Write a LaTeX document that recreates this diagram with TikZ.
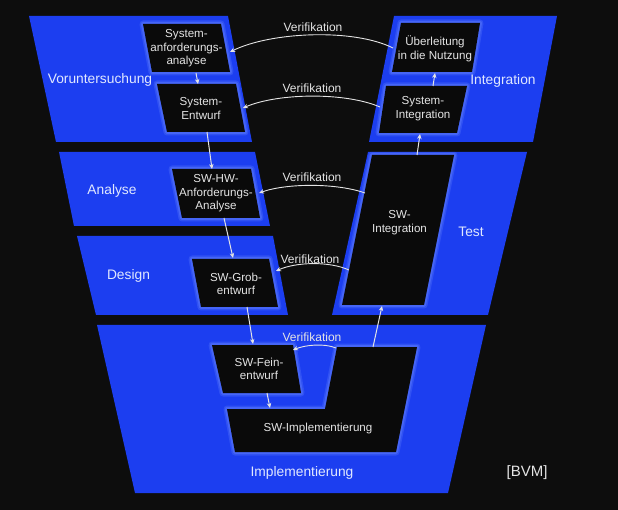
\documentclass[tikz,border=0pt]{standalone}
\usepackage{fontspec}
\setmainfont{Liberation Sans}
\usetikzlibrary{arrows.meta}
\definecolor{bg}{RGB}{13,13,13}
\definecolor{vblue}{RGB}{28,62,240}
\definecolor{glowblue}{RGB}{110,140,255}
\definecolor{boxfill}{RGB}{10,10,10}
\definecolor{lbl}{RGB}{225,232,255}
\definecolor{txt}{RGB}{228,228,228}
\begin{document}
\begin{tikzpicture}[x=1pt,y=-1pt,
  band/.style={fill=vblue},
  box/.style={fill=boxfill,
    preaction={draw=glowblue, draw opacity=0.25, line width=7pt, line join=round},
    preaction={draw=glowblue, draw opacity=0.35, line width=4pt, line join=round}},
  boxtext/.style={text=txt, font=\fontsize{11.6}{13.5}\selectfont, align=center, inner sep=0pt},
  phase/.style={text=lbl, font=\fontsize{13.8}{16}\selectfont, inner sep=0pt},
  flow/.style={draw=txt, line width=1pt, -{Stealth[length=5pt,width=4.5pt]}},
  verif/.style={draw=txt, line width=0.9pt, -{Stealth[length=5pt,width=4.5pt]}},
  veriflbl/.style={text=txt, font=\fontsize{12}{14}\selectfont, inner sep=0pt}
]
\fill[bg] (0,0) rectangle (618,510);
\useasboundingbox (0,0) rectangle (618,510);

% bands
\fill[band] (29,16) -- (228,16) -- (252,142) -- (56,142) -- cycle;
\fill[band] (394,16) -- (557,16) -- (533,142) -- (369,142) -- cycle;
\fill[band] (59,152) -- (255,152) -- (270,226) -- (74,226) -- cycle;
\fill[band] (77,236) -- (273,236) -- (288,315) -- (96,315) -- cycle;
\fill[band] (368,152) -- (527,152) -- (488,315) -- (332,315) -- cycle;
\fill[band] (97,325) -- (486,325) -- (448,493) -- (135,493) -- cycle;

% boxes
\begin{scope}
\clip (29,16) -- (228,16) -- (252,142) -- (56,142) -- cycle
      (394,16) -- (557,16) -- (533,142) -- (369,142) -- cycle
      (59,152) -- (255,152) -- (270,226) -- (74,226) -- cycle
      (77,236) -- (273,236) -- (288,315) -- (96,315) -- cycle
      (368,152) -- (527,152) -- (488,315) -- (332,315) -- cycle
      (97,325) -- (486,325) -- (448,493) -- (135,493) -- cycle;
\path[box] (143,24) -- (221,24) -- (230,72) -- (152,72) -- cycle;
\path[box] (157,84) -- (236,84) -- (245,132) -- (167,132) -- cycle;
\path[box] (172,169) -- (251,169) -- (260,218) -- (182,218) -- cycle;
\path[box] (192,259) -- (269,259) -- (278,307) -- (201,307) -- cycle;
\path[box] (212,345) -- (293,345) -- (301,393) -- (223,393) -- cycle;
\path[box] (337,347) -- (417,347) -- (396,452) -- (235,452) -- (227,409) -- (325,409) -- cycle;
\path[box] (372,155) -- (454,155) -- (424,305) -- (342,305) -- cycle;
\path[box] (386,86) -- (467,86) -- (457,133) -- (379,133) -- cycle;
\path[box] (401,23) -- (480,23) -- (472,72) -- (392,72) -- cycle;
\end{scope}

% box texts
\node[boxtext] (b1) at (186.5,48.5) {System-\\anforderungs-\\analyse};
\node[boxtext] (b2) at (201,108.5) {System-\\Entwurf};
\node[boxtext] (b3) at (216,193.5) {SW-HW-\\Anforderungs-\\Analyse};
\node[boxtext] (b4) at (236,284) {SW-Grob-\\entwurf};
\node[boxtext] (b5) at (259,369) {SW-Fein-\\entwurf};
\node[boxtext] (b6) at (318,428) {SW-Implementierung};
\node[boxtext] (b7) at (399.5,222.5) {SW-\\Integration};
\node[boxtext] (b8) at (423,108.5) {System-\\Integration};
\node[boxtext] (b9) at (435,49) {Überleitung\\in die Nutzung};

% phase labels
\node[phase] (p1) at (100,80) {Voruntersuchung};
\node[phase] (p2) at (503,81) {Integration};
\node[phase] (p3) at (112,191) {Analyse};
\node[phase] (p4) at (128.5,276) {Design};
\node[phase] (p5) at (471,232) {Test};
\node[phase] (p6) at (302,473) {Implementierung};
\node[text=txt, font=\fontsize{15}{17}\selectfont, inner sep=0pt] (bvm) at (527,473) {[BVM]};

% connector end points
\coordinate (b1s) at (196,73);   \coordinate (b2n) at (198,84);
\coordinate (b2s) at (207,132);  \coordinate (b3n) at (212,169);
\coordinate (b3s) at (224,218);  \coordinate (b4n) at (233,258);
\coordinate (b4s) at (247,307);  \coordinate (b5n) at (253,344);
\coordinate (b5s) at (267,393);  \coordinate (b6w) at (270,408);
\coordinate (b6n) at (373,347);  \coordinate (b7s) at (382,306);
\coordinate (b7n) at (417,155);  \coordinate (b8s) at (420,134);
\coordinate (b8n) at (433,86);   \coordinate (b9s) at (435,73);

\draw[flow] (b1s) -- (b2n);
\draw[flow] (b2s) -- (b3n);
\draw[flow] (b3s) -- (b4n);
\draw[flow] (b4s) -- (b5n);
\draw[flow] (b5s) -- (b6w);
\draw[flow] (b6n) -- (b7s);
\draw[flow] (b7n) -- (b8s);
\draw[flow] (b8n) -- (b9s);

% verification arcs
\coordinate (v1s) at (393,48);  \coordinate (v1e) at (230,52);
\coordinate (v2s) at (380,107); \coordinate (v2e) at (243,108);
\coordinate (v3s) at (365,193); \coordinate (v3e) at (259,193);
\coordinate (v4s) at (349,270); \coordinate (v4e) at (276,271);
\coordinate (v5s) at (336,348); \coordinate (v5e) at (293,350);

\draw[verif] (v1s) .. controls +(-40,-20) and +(40,-20) .. (v1e);
\draw[verif] (v2s) .. controls +(-35,-15) and +(35,-15) .. (v2e);
\draw[verif] (v3s) .. controls +(-28,-10) and +(28,-10) .. (v3e);
\draw[verif] (v4s) .. controls +(-20,-9) and +(20,-9) .. (v4e);
\draw[verif] (v5s) .. controls +(-12,-5) and +(12,-5) .. (v5e);

\node[veriflbl] (l1) at (313,27) {Verifikation};
\node[veriflbl] (l2) at (312,88) {Verifikation};
\node[veriflbl] (l3) at (312,177) {Verifikation};
\node[veriflbl] (l4) at (310,259) {Verifikation};
\node[veriflbl] (l5) at (312,337) {Verifikation};
\end{tikzpicture}
\end{document}
